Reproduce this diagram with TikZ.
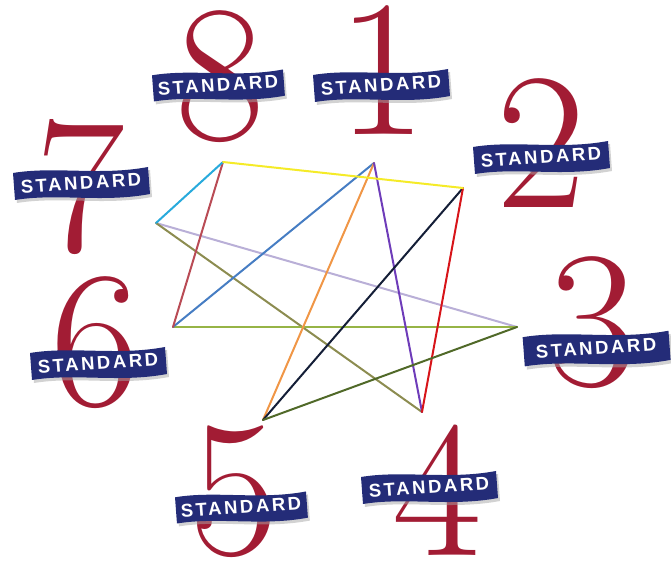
\documentclass[tikz,border=0pt]{standalone}
\usepackage{fontspec}
\usepackage{xcolor}
\usepackage{tikz}
\usetikzlibrary{positioning,calc}
\newfontfamily\banfont[LetterSpace=14]{Liberation Sans}
\definecolor{numred}{RGB}{162,28,52}
\definecolor{bannavy}{RGB}{36,44,120}
\definecolor{lnyellow}{RGB}{245,235,40}
\definecolor{lncyan}{RGB}{40,170,220}
\definecolor{lnbrick}{RGB}{185,75,85}
\definecolor{lnlav}{RGB}{185,175,215}
\definecolor{lnolive}{RGB}{140,140,80}
\definecolor{lnlime}{RGB}{150,180,70}
\definecolor{lnsteel}{RGB}{70,125,195}
\definecolor{lnorange}{RGB}{240,150,70}
\definecolor{lnpurple}{RGB}{110,60,185}
\definecolor{lnnavy}{RGB}{20,30,55}
\definecolor{lnred}{RGB}{215,20,25}
\definecolor{lndkolive}{RGB}{80,105,40}

\begin{document}
\begin{tikzpicture}[x=1pt, y=1pt,
  bignum/.style={inner sep=0pt, text=numred, font=\fontsize{195}{195}\selectfont},
  edge/.style={line width=2pt, line cap=round},
  stdbanner/.pic={
    \fill[black!35, opacity=0.5, shift={(2,-3)}]
      (-67,10) .. controls (-25,17) and (20,7) .. (68,16) -- (70,-11)
      .. controls (22,-20) and (-22,-10) .. (-65,-17) -- cycle;
    \fill[bannavy]
      (-67,10) .. controls (-25,17) and (20,7) .. (68,16) -- (70,-11)
      .. controls (22,-20) and (-22,-10) .. (-65,-17) -- cycle;
    \node[inner sep=0pt, text=white, rotate=4,
          font=\banfont\bfseries\fontsize{18.5}{18.5}\selectfont] (-txt) at (1,0) {STANDARD};
  }
]
\useasboundingbox (0,0) rectangle (671,564);

% numbers round the clock
\node[bignum] (n1) at (382,494) {1};
\node[bignum] (n2) at (541,421) {2};
\node[bignum] (n3) at (592,241) {3};
\node[bignum] (n4) at (437,74)  {4};
\node[bignum] (n5) at (234,72)  {5};
\node[bignum] (n6) at (95,221)  {6};
\node[bignum] (n7) at (80,377)  {7};
\node[bignum] (n8) at (220,487) {8};

% ribbons
\pic (b1) at (380,479) {stdbanner};
\pic (b2) at (540,407) {stdbanner};
\pic[scale=1.08] (b3) at (595,216) {stdbanner};
\pic (b4) at (428,77)  {stdbanner};
\pic[scale=0.97] (b5) at (240,57) {stdbanner};
\pic (b6) at (97,201)  {stdbanner};
\pic (b7) at (80,381)  {stdbanner};
\pic[scale=0.97] (b8) at (217,479) {stdbanner};

% the eight points
\coordinate (p1) at (374,401);
\coordinate (p2) at (463,376);
\coordinate (p3) at (517,237);
\coordinate (p4) at (422,152);
\coordinate (p5) at (263,144);
\coordinate (p6) at (173,237);
\coordinate (p7) at (156,341);
\coordinate (p8) at (223,402);

\draw[edge, lnlav]     (p7) -- (p3);
\draw[edge, lnolive]   (p7) -- (p4);
\draw[edge, lnlime]    (p6) -- (p3);
\draw[edge, lnsteel]   (p6) -- (p1);
\draw[edge, lnbrick]   (p8) -- (p6);
\draw[edge, lncyan]    (p8) -- (p7);
\draw[edge, lnorange]  (p1) -- (p5);
\draw[edge, lnpurple]  (p1) -- (p4);
\draw[edge, lnnavy]    (p2) -- (p5);
\draw[edge, lnred]     (p2) -- (p4);
\draw[edge, lndkolive] (p5) -- (p3);
\draw[edge, lnyellow]  (p8) -- (p2);
\end{tikzpicture}
\end{document}
